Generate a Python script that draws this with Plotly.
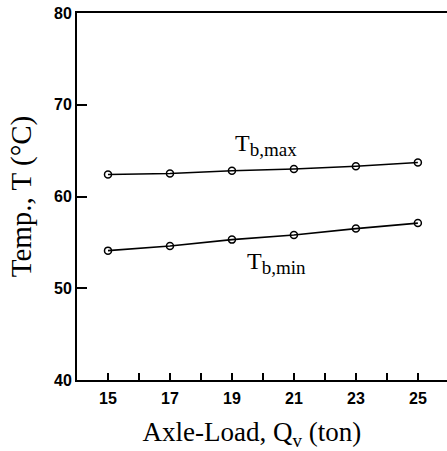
import plotly.graph_objects as go

# axle load (ton)
axle_load = [15, 17, 19, 21, 23, 25]
# bottom temperatures
t_b_max = [62.4, 62.5, 62.8, 63.0, 63.3, 63.7]
t_b_min = [54.1, 54.6, 55.3, 55.8, 56.5, 57.1]

x_tick_vals = [15, 17, 19, 21, 23, 25]
y_tick_vals = [40, 50, 60, 70, 80]

serif = "Liberation Serif, Times New Roman, serif"
sans = "Liberation Sans, Arial, sans-serif"

fig = go.Figure()

for series in (t_b_max, t_b_min):
    fig.add_trace(go.Scatter(
        x=axle_load, y=series,
        mode="lines+markers",
        line=dict(color="black", width=1.6),
        marker=dict(symbol="circle-open", size=7, color="black",
                    line=dict(width=1.5, color="black")),
        showlegend=False,
    ))

# curve labels
sub = "<sub><span style='font-size:19px'>{}</span></sub>"
fig.add_annotation(x=20.1, y=65.6, text="T" + sub.format("b,max"), showarrow=False,
                   font=dict(family=serif, size=24, color="black"))
fig.add_annotation(x=20.45, y=52.75, text="T" + sub.format("b,min"), showarrow=False,
                   font=dict(family=serif, size=24, color="black"))

fig.update_xaxes(
    range=[14, 25.94],
    tickvals=x_tick_vals,
    ticks="inside", ticklen=7, tickwidth=1.5, tickcolor="black",
    minor=dict(dtick=1, tick0=14, ticks="inside", ticklen=7, tickwidth=1.5,
               tickcolor="black", showgrid=False),
    showline=True, linecolor="black", linewidth=2, mirror=True,
    showgrid=False, zeroline=False, automargin=False,
    ticklabelstandoff=3,
    tickfont=dict(family=sans, size=16, color="black", weight="bold"),
    # trailing spaces nudge the centred title left, as in the original
    title=dict(text="Axle-Load, Q<sub>v</sub> (ton)&nbsp;&nbsp;&nbsp;",
               font=dict(family=serif, size=27, color="black"), standoff=17),
)
fig.update_yaxes(
    range=[40, 80],
    tickvals=y_tick_vals,
    ticks="inside", ticklen=10, tickwidth=1.5, tickcolor="black",
    showline=True, linecolor="black", linewidth=2,
    showgrid=False, zeroline=False, automargin=False,
    tickfont=dict(family=sans, size=16, color="black", weight="bold"),
    title=dict(text="Temp., T (°C)",
               font=dict(family=serif, size=29, color="black"), standoff=14),
)

fig.update_layout(
    width=447, height=451,
    margin=dict(l=77, r=0, t=13, b=71),
    plot_bgcolor="white", paper_bgcolor="white",
)

# drop the default body margin so the figure fills the window exactly
fig.write_html("out.html", config={"displayModeBar": False},
               post_script="document.body.style.margin='0px';")
